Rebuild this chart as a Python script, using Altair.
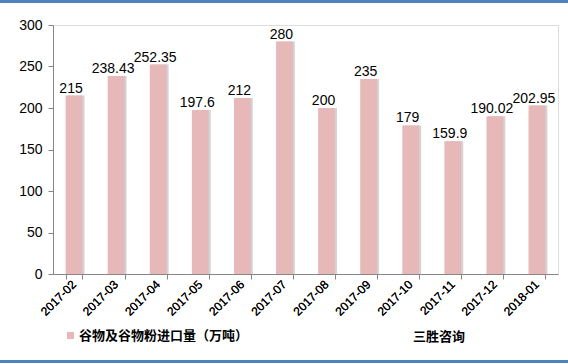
import altair as alt
import pandas as pd

months = ["2017-02", "2017-03", "2017-04", "2017-05", "2017-06", "2017-07",
          "2017-08", "2017-09", "2017-10", "2017-11", "2017-12", "2018-01"]
values = [215, 238.43, 252.35, 197.6, 212, 280, 200, 235, 179, 159.9, 190.02, 202.95]
labels = ["215", "238.43", "252.35", "197.6", "212", "280", "200", "235", "179", "159.9", "190.02", "202.95"]
series = "谷物及谷物粉进口量（万吨）"

df = pd.DataFrame({"month": months, "value": values, "label": labels, "series": [series] * len(months)})

W, H = 505, 249
FONT = "Liberation Sans"

xscale = alt.Scale(paddingInner=0.6, paddingOuter=0.3)

x_ticks = alt.X("month:N", sort=months, title=None, scale=xscale,
                axis=alt.Axis(orient="bottom", labels=False, domainColor="#868686", tickColor="#868686",
                              tickSize=5, tickBand="extent"))
x_labels = alt.X("month:N", sort=months, title=None, scale=xscale,
                 axis=alt.Axis(orient="bottom", labelAngle=-45, labelAlign="right", labelBaseline="middle",
                               labelFont=FONT, labelFontSize=12, labelColor="#000",
                               domain=False, ticks=False, labelPadding=8))
y = alt.Y("value:Q", title=None,
          scale=alt.Scale(domain=[0, 300], nice=False),
          axis=alt.Axis(values=[0, 50, 100, 150, 200, 250, 300], grid=False,
                        labelFont=FONT, labelFontSize=14, labelColor="#000",
                        domainColor="#868686", tickColor="#868686", tickSize=5,
                        labelPadding=6))

base = alt.Chart(df)

shadow = base.mark_bar(color="#c8c8c8", xOffset=2, opacity=0.8).encode(x=x_ticks, y=y)

bars = base.mark_bar().encode(
    x=x_labels, y=y,
    color=alt.Color("series:N",
                    scale=alt.Scale(range=["#E6B9B8"]),
                    legend=alt.Legend(orient="none", legendX=11, legendY=304, title=None,
                                      symbolType="square", symbolSize=50, symbolStrokeWidth=0,
                                      labelLimit=0, labelOffset=2,
                                      labelFont="Noto Sans CJK SC", labelFontSize=13,
                                      labelFontWeight="bold", labelColor="#000")))

text = base.mark_text(baseline="bottom", dy=0, dx=-3, font=FONT, fontSize=14, color="#000").encode(
    x=x_labels, y=y, text="label:N")

brand = alt.Chart(pd.DataFrame({"t": ["三胜咨询"]})).mark_text(
    font="Noto Sans CJK SC", fontSize=13, fontWeight="bold", align="left", baseline="middle", color="#000"
).encode(x=alt.value(360), y=alt.value(312), text="t:N")

top_line = alt.Chart(pd.DataFrame({"a": [0]})).mark_rule(color="#4F81BD", strokeWidth=3).encode(
    x=alt.value(-53), x2=alt.value(515), y=alt.value(-23.5))
bottom_line = alt.Chart(pd.DataFrame({"a": [0]})).mark_rule(color="#4F81BD", strokeWidth=3).encode(
    x=alt.value(-53), x2=alt.value(515), y=alt.value(336.5))

chart = alt.layer(shadow, bars, text, brand, top_line, bottom_line).resolve_axis(
    x="independent"
).properties(
    width=W, height=H,
    autosize=alt.AutoSizeParams(type="none"),
    padding={"left": 53, "top": 25, "right": 10, "bottom": 90},
).configure_view(stroke=None).configure(background="#ffffff")

chart.save("out.html", embed_options={"renderer": "svg", "actions": False})
